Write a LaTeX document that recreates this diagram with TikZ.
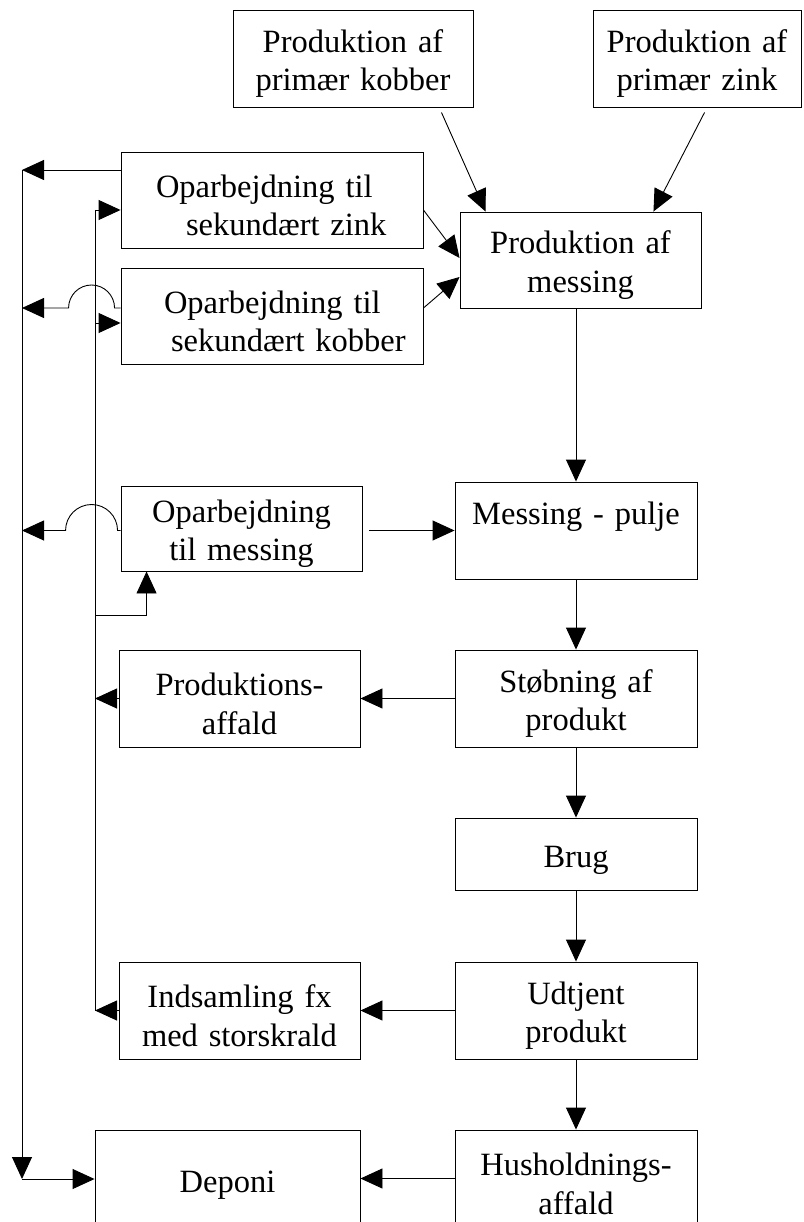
\documentclass[tikz,border=0pt]{standalone}
\usepackage{fontspec}
\setmainfont{Liberation Serif}
\usetikzlibrary{arrows.meta,calc}
\begin{document}
\begin{tikzpicture}[x=1pt,y=-1pt,
  box/.style={draw,line width=0.9pt,inner sep=0pt,minimum height=97pt,
    font=\fontsize{32.5}{38.5}\selectfont,
    execute at begin node={\rule{0pt}{33pt}}},
  cbox/.style={box,align=center,text width=#1},
  lbox/.style={box,align=left,text width=#1},
  arr/.style={line width=0.9pt,-{Triangle[length=22pt,width=20pt]}},
  ln/.style={line width=0.9pt}]
\path[use as bounding box] (0,0) rectangle (803,1222);
\clip (0,0) rectangle (803,1222);
\fill[white] (0,0) rectangle (803,1222);

% primary production
\node[cbox=240pt] (pk) at (353,58.5) {Produktion af\\primær kobber};
\node[cbox=208pt] (pz) at (697,58.5) {Produktion af\\primær zink};

% secondary processing
\node[lbox=302pt,minimum height=96pt] (sz) at (272,200)
  {\hspace*{35pt}Oparbejdning til\\\hspace*{65pt}sekundært zink};
\node[lbox=302pt,minimum height=96pt] (sk) at (272,316)
  {\hspace*{43pt}Oparbejdning til\\\hspace*{50pt}sekundært kobber};
\node[cbox=241pt,minimum height=85pt] (om) at (241.5,528.5) {Oparbejdning\\til messing};

% main chain
\node[cbox=241pt,minimum height=96pt] (pm) at (580.5,260) {Produktion af\\messing};
\node[cbox=242pt] (mp) at (576,530.5) {Messing - pulje\\[-5pt]\strut};
\node[cbox=242pt] (st) at (576,698.5) {Støbning af\\produkt};
\node[cbox=242pt,minimum height=72pt] (br) at (576,854) {Brug};
\node[cbox=242pt] (ud) at (576,1010.5) {Udtjent\\produkt};
\node[cbox=242pt] (hu) at (576,1178.5) {Husholdnings-\\affald};

% waste side
\node[cbox=241pt] (pa) at (239.5,698.5) {Produktions-\\affald};
\node[cbox=241pt] (ind) at (239.5,1010.5) {Indsamling fx\\med storskrald};
\node[cbox=265pt] (de) at (227.5,1179) {Deponi};

% collection bus lines
\coordinate (itop) at (95,210);
\coordinate (ibot) at (95,1010.5);
\coordinate (otop) at (22,170);
\coordinate (obot) at (22,1179);

% inputs to brass production
\draw[arr] ([shift={(-32,5)}]pk.south east) -- ([shift={(26,0)}]pm.north west);
\draw[arr] ([shift={(112,5)}]pz.south west) -- ([shift={(-48,0)}]pm.north east);
\draw[arr] ([shift={(0,10)}]sz.east) -- ([shift={(0,-2)}]pm.west);
\draw[arr] ([shift={(0,-8)}]sk.east) -- ([shift={(0,17)}]pm.west);

% main chain arrows
\draw[arr] (pm.south -| mp.north) -- (mp.north);
\coordinate (omr) at ([shift={(7,2)}]om.east);
\draw[arr] (omr) -- (mp.west |- omr);
\draw[arr] (mp.south) -- (st.north);
\draw[arr] (st.south) -- (br.north);
\draw[arr] (br.south) -- (ud.north);
\draw[arr] (ud.south) -- (hu.north);
\draw[arr] (st.west) -- (pa.east);
\draw[arr] (ud.west) -- (ind.east);
\draw[arr] (hu.west) -- (de.east |- hu.west);

% inner return line
\draw[ln] (itop) -- (ibot);
\draw[arr] (itop) -- (sz.west |- itop);
\coordinate (skin) at ([shift={(0,7)}]sk.west);
\draw[arr] (itop |- skin) -- (skin);
\coordinate (omin) at ([shift={(26,44)}]om.south west);
\draw[arr] (itop |- omin) -- (omin) -- (omin |- om.south);
\draw[arr] (pa.west) -- (itop |- pa.west);
\draw[arr] (ind.west) -- (ibot);

% outer line to landfill
\coordinate (szout) at ([shift={(0,-30)}]sz.west);
\draw[arr] (szout) -- (otop);
\coordinate (skout) at ([shift={(0,-8)}]sk.west);
\draw[arr] (skout) -- ++(-6,0) arc[start angle=0,end angle=180,radius=23pt] -- (otop |- skout);
\coordinate (omout) at ([shift={(0,2)}]om.west);
\draw[arr] (omout) -- ++(-3,0) arc[start angle=0,end angle=180,radius=26pt] -- (otop |- omout);
\draw[arr] (otop) -- (obot);
\draw[arr] (obot) -- (de.west);
\end{tikzpicture}
\end{document}
